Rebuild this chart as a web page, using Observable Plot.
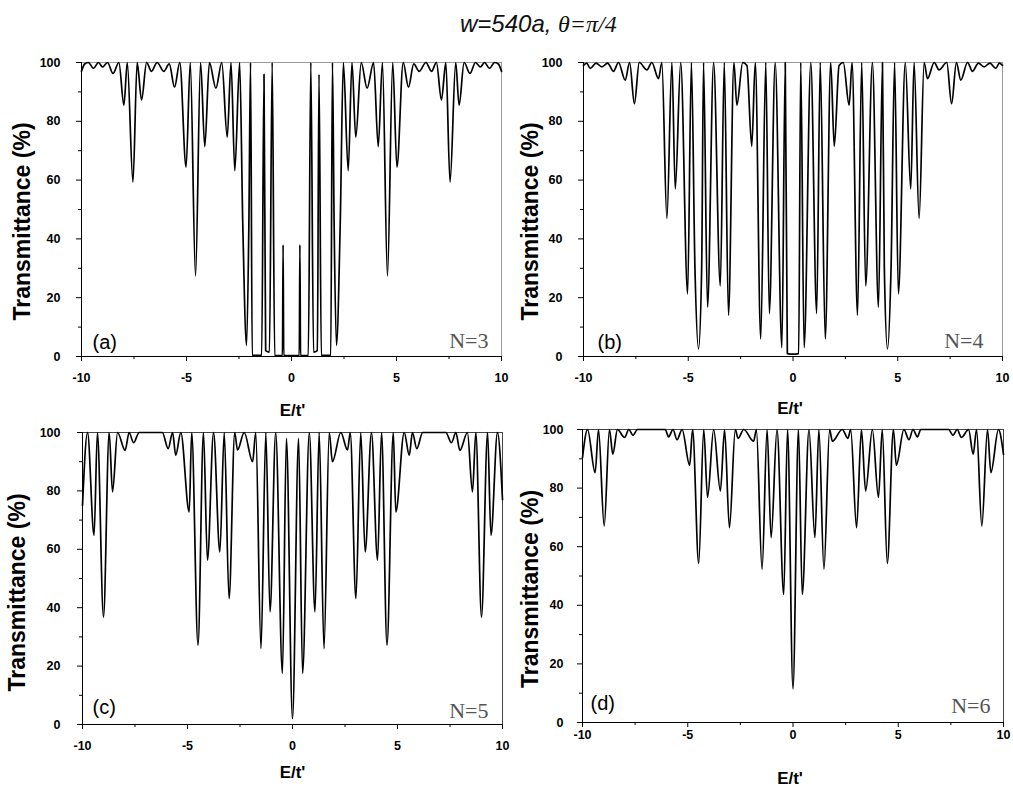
<!DOCTYPE html>
<html><head><meta charset="utf-8">
<script src="https://cdn.jsdelivr.net/npm/d3@7"></script>
<script src="https://cdn.jsdelivr.net/npm/@observablehq/plot@0.6"></script>
<style>
html,body{margin:0;padding:0;background:#fff;}
#root{position:relative;width:1013px;height:790px;overflow:hidden;background:#fff;font-family:"Liberation Sans",Arial,sans-serif;}
#title{position:absolute;left:460px;top:12px;font-size:24px;line-height:24px;white-space:nowrap;font-style:italic;color:#111;font-family:"Liberation Sans",Arial,sans-serif;}
#title .g{font-family:"Liberation Serif","Times New Roman",serif;}
svg g[aria-label="x-axis tick label"] text, svg g[aria-label="y-axis tick label"] text{font-weight:bold;}
</style></head>
<body><div id="root"><div id="title">w=540a, <span class="g">θ=π/4</span></div></div>
<script>
// ---- data ----
const xMajorTicks = [-10, -5, 0, 5, 10];
const xMinorTicks = [-7.5, -2.5, 2.5, 7.5];
const yMajorTicks = [0, 20, 40, 60, 80, 100];
const yMinorTicks = [10, 30, 50, 70, 90];
const xTitle = "E/t'";
const yTitle = "Transmittance (%)";
const panelTags = ["(a)", "(b)", "(c)", "(d)"];
const panelN = ["N=3", "N=4", "N=5", "N=6"];

const E_a = [-10,-9.85,-9.67,-9.43,-9.19,-9.0,-8.76,-8.5,-8.22,-7.98,-7.82,-7.55,-7.35,-7.14,-6.9,-6.67,-6.4,-6.08,-5.82,-5.57,-5.32,-5.02,-4.82,-4.57,-4.33,-4.13,-3.91,-3.6,-3.32,-3.06,-2.88,-2.7,-2.47,-2.32,-2.14,-2.03,-1.95,-1.87,-1.42,-1.31,-1.23,-1.05,-0.92,-0.8,-0.43,-0.4,-0.37,0,
  0.37,0.4,0.43,0.8,0.92,1.05,1.23,1.31,1.42,1.87,1.95,2.03,2.14,2.32,2.47,2.7,2.88,3.06,3.32,3.6,3.91,4.13,4.33,4.57,4.82,5.02,5.32,5.57,5.82,6.08,6.4,6.67,6.9,7.14,7.35,7.55,7.82,7.98,8.22,8.5,8.76,9.0,9.19,9.43,9.67,9.85,10];
const T_a = [97,99.5,100,98,100,98.5,100,96.3,100,85.5,100,59.3,100,87.3,100,97,100,97,99.5,91.6,100,64.4,100,27.4,100,71.4,100,91.3,100,74.6,100,63.2,100,45,3.8,45,100,0.4,0.4,96,2,1.5,100,0.3,0.3,38,0.3,0.3,
  0.3,38,0.3,0.3,100,1.5,2,96,0.4,0.4,100,45,3.8,45,100,63.2,100,74.6,100,91.3,100,71.4,100,27.4,100,64.4,100,91.6,99.5,97,100,97,100,87.3,100,59.3,100,85.5,100,96.3,100,98.5,100,98,100,99.5,97];

const E_b = [-10,-9.85,-9.68,-9.4,-9.12,-8.85,-8.57,-8.33,-8.01,-7.8,-7.57,-7.34,-6.97,-6.74,-6.42,-6.26,-6.02,-5.78,-5.62,-5.36,-5.03,-4.85,-4.68,-4.51,-4.36,-4.27,-4.08,-3.79,-3.47,-3.28,-3.08,-2.82,-2.68,-2.4,-2.2,-1.97,-1.8,-1.54,-1.3,-1.13,-0.85,-0.53,-0.37,-0.27,0,
  0.27,0.37,0.53,0.85,1.13,1.3,1.54,1.8,1.97,2.2,2.4,2.68,2.82,3.08,3.28,3.47,3.79,4.08,4.27,4.36,4.51,4.68,4.85,5.03,5.36,5.62,5.78,6.02,6.26,6.42,6.74,6.97,7.34,7.57,7.8,8.01,8.33,8.57,8.85,9.12,9.4,9.68,9.85,10];
const T_b = [99,99.8,98,99.8,98.5,99.8,97,100,94,100,86,100,97.5,100,94.5,100,47,100,57,100,21.3,100,30,2.6,30,100,16.8,100,24,100,14,100,85.5,100,99,71.5,100,6,100,14.6,100,3,100,1,0.8,
  1,100,3,100,14.6,100,6,100,71.5,99,100,85.5,100,14,100,24,100,16.8,100,30,2.6,30,100,21.3,100,57,100,47,100,94.5,100,97.5,100,86,100,94,100,97,99.8,98.5,99.8,98,99.8,99];

const E_c = [-10,-9.76,-9.45,-9.29,-9.0,-8.73,-8.57,-8.33,-7.97,-7.78,-7.57,-7.3,-6.2,-5.92,-5.71,-5.56,-5.32,-4.92,-4.8,-4.5,-4.24,-4.05,-3.76,-3.46,-3.25,-3.02,-2.75,-2.62,-2.3,-1.9,-1.75,-1.5,-1.27,-1.07,-0.8,-0.48,-0.29,0,
  0.29,0.48,0.8,1.07,1.27,1.5,1.75,1.9,2.3,2.62,2.75,3.02,3.25,3.46,3.76,4.05,4.24,4.5,4.8,4.92,5.32,5.56,5.71,5.92,6.2,7.3,7.57,7.78,7.97,8.33,8.57,8.73,9.0,9.29,9.45,9.76,10];
const T_c = [75,100,64.8,100,36.8,100,79.7,100,93.9,100,96.5,100,100,94.5,100,92.2,100,72.8,100,27.2,100,56.3,100,59.1,100,43.1,100,94,100,90,100,26,100,38.6,100,17.5,98,2,
  98,17.5,100,38.6,100,26,100,90,100,94,100,43.1,100,59.1,100,56.3,100,27.2,100,72.8,100,92.2,100,94.5,100,100,96.5,100,93.9,100,79.7,100,36.8,100,64.8,100,77];

const E_d = [-10,-9.76,-9.4,-9.24,-8.97,-8.72,-8.56,-8.34,-8.0,-7.8,-7.6,-7.39,-6.07,-5.91,-5.7,-5.51,-5.27,-4.91,-4.77,-4.48,-4.24,-4.06,-3.77,-3.45,-3.25,-3.02,-2.74,-2.61,-2.34,-1.87,-1.74,-1.47,-1.23,-1.04,-0.76,-0.44,-0.26,0,
  0.26,0.44,0.76,1.04,1.23,1.47,1.74,1.87,2.34,2.61,2.74,3.02,3.25,3.45,3.77,4.06,4.24,4.48,4.77,4.91,5.27,5.51,5.7,5.91,6.07,7.39,7.6,7.8,8.0,8.34,8.56,8.72,8.97,9.24,9.4,9.76,10];
const T_d = [90.4,100,85.3,100,67.1,100,91.6,100,97.3,100,98,100,100,97.5,100,96.5,100,87.8,100,54.3,100,76.8,100,79,100,66.5,100,97,100,96,100,52.3,100,63.1,100,43.7,100,11.5,
  100,43.7,100,63.1,100,52.3,100,96,100,97,100,66.5,100,79,100,76.8,100,54.3,100,87.8,100,96.5,100,97.5,100,100,98,100,97.3,100,91.6,100,67.1,100,85.3,100,91.5];

// ---- drawing ----
const root = document.getElementById("root");
const SANS = "Liberation Sans, Arial, sans-serif";
const SERIF = "Liberation Serif, Times New Roman, serif";

function panel(cfg) {
  const mL = 80, mR = 12, mT = 10, mB = 66;
  const data = cfg.E.map((e, i) => ({E: e, T: cfg.T[i]}));
  const svg = Plot.plot({
    width: mL + (cfg.right - cfg.left) + mR,
    height: mT + (cfg.bottom - cfg.top) + mB,
    marginLeft: mL, marginRight: mR, marginTop: mT, marginBottom: mB,
    x: {domain: [-10, 10]},
    y: {domain: [0, 100]},
    style: {fontFamily: SANS, background: "transparent", overflow: "visible", color: "#000"},
    marks: [
      Plot.frame({stroke: cfg.frameColor, strokeWidth: 1}),
      Plot.line(data, {x: "E", y: "T", curve: "monotone-x", stroke: "#000", strokeWidth: 1.7}),
      Plot.ruleX([-10], {stroke: "#000", strokeWidth: 1}),
      Plot.ruleY([0], {stroke: "#000", strokeWidth: 1}),
      Plot.axisX(xMajorTicks, {tickSize: 5, tickPadding: cfg.xPad, tickFormat: d => String(d), fontSize: 12.5, fontWeight: "bold", label: null, stroke: "#000"}),
      Plot.axisX(xMinorTicks, {tickSize: 3, tickFormat: () => "", label: null}),
      Plot.axisY(yMajorTicks, {tickSize: 5, tickPadding: cfg.yPad, tickFormat: d => String(d), fontSize: 12.5, fontWeight: "bold", label: null}),
      Plot.axisY(yMinorTicks, {tickSize: 3, tickFormat: () => "", label: null}),
      Plot.text([yTitle], {text: d => d, frameAnchor: "left", rotate: -90, dx: cfg.yTitleX - cfg.left, dy: cfg.yTitleDy, fontSize: 23, fontWeight: "bold", lineAnchor: "middle", textAnchor: "middle", fontFamily: SANS}),
      Plot.text([xTitle], {text: d => d, frameAnchor: "bottom", dx: cfg.xTitleDx, dy: cfg.xTitleDy, fontSize: 17, fontWeight: "bold", lineAnchor: "middle", textAnchor: "middle", fontFamily: SANS}),
      Plot.text([cfg.tag], {text: d => d, frameAnchor: "bottom-left", dx: cfg.tagDx, dy: cfg.tagDy, textAnchor: "start", lineAnchor: "middle", fontSize: 20, fontFamily: SANS}),
      Plot.text([cfg.n], {text: d => d, frameAnchor: "bottom-right", dx: cfg.nDx, dy: cfg.nDy, textAnchor: "end", lineAnchor: "middle", fontSize: 22, fontFamily: SERIF, fill: "#555"})
    ]
  });
  svg.style.position = "absolute";
  svg.style.left = (cfg.left - mL) + "px";
  svg.style.top = (cfg.top - mT) + "px";
  root.appendChild(svg);
}

panel({E: E_a, T: T_a, tag: panelTags[0], n: panelN[0], left: 81, right: 501, top: 62, bottom: 356,
  frameColor: "#9a9a9a", xPad: 12, yPad: 16, yTitleX: 22, yTitleDy: 12, xTitleDx: 1, xTitleDy: 54,
  tagDx: 11, tagDy: -14, nDx: -13, nDy: -16});
panel({E: E_b, T: T_b, tag: panelTags[1], n: panelN[1], left: 583, right: 1002, top: 62, bottom: 356,
  frameColor: "#9a9a9a", xPad: 12, yPad: 16, yTitleX: 530, yTitleDy: 12, xTitleDx: -3, xTitleDy: 52,
  tagDx: 14, tagDy: -14, nDx: -19, nDy: -16});
panel({E: E_c, T: T_c, tag: panelTags[2], n: panelN[2], left: 82, right: 502, top: 432, bottom: 724,
  frameColor: "#444", xPad: 12, yPad: 17, yTitleX: 17, yTitleDy: 14, xTitleDx: 0, xTitleDy: 48,
  tagDx: 10, tagDy: -17, nDx: -14, nDy: -14});
panel({E: E_d, T: T_d, tag: panelTags[3], n: panelN[3], left: 582, right: 1003, top: 429, bottom: 722,
  frameColor: "#444", xPad: 3, yPad: 14, yTitleX: 530, yTitleDy: 13, xTitleDx: -3, xTitleDy: 56,
  tagDx: 8, tagDy: -19, nDx: -13, nDy: -17});
</script>
</body></html>
